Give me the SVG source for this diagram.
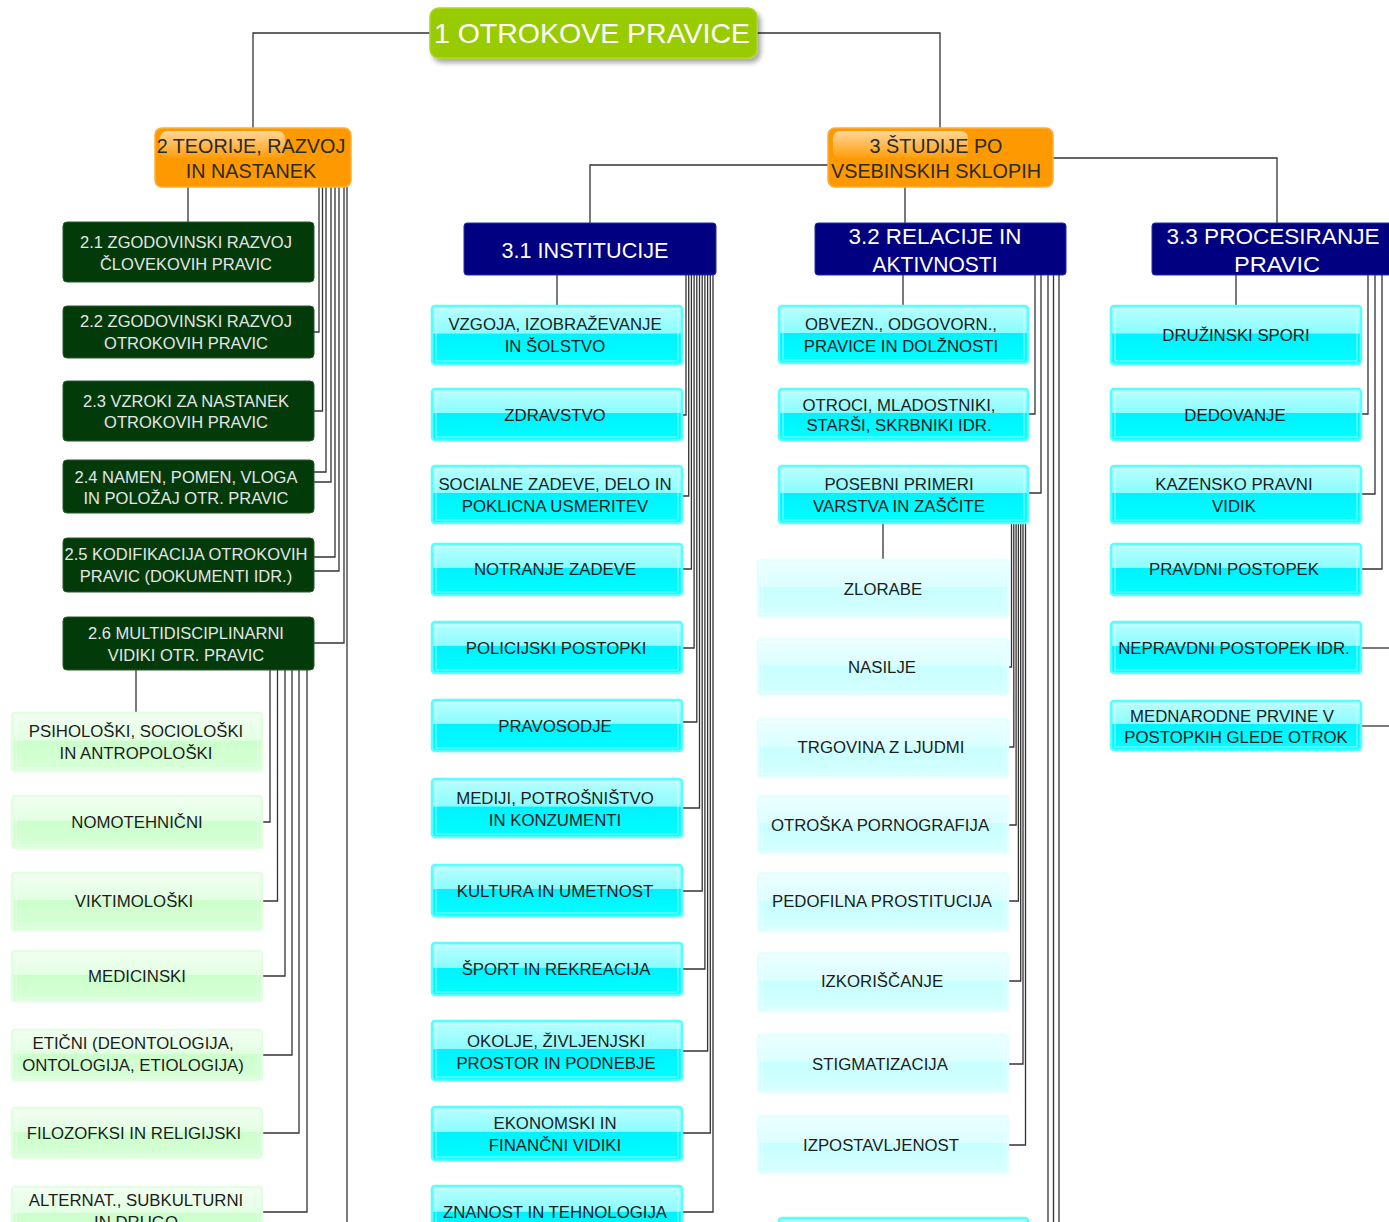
<svg xmlns="http://www.w3.org/2000/svg" width="1389" height="1222" viewBox="0 0 1389 1222">
<defs>
<linearGradient id="gCy" x1="0" y1="0" x2="0" y2="1"><stop offset="0" stop-color="#b8ffff"/><stop offset="0.47" stop-color="#8cfcff"/><stop offset="0.48" stop-color="#00f2ff"/><stop offset="1" stop-color="#00ffff"/></linearGradient>
<linearGradient id="gPale" x1="0" y1="0" x2="0" y2="1"><stop offset="0" stop-color="#ecffff"/><stop offset="0.47" stop-color="#dcffff"/><stop offset="0.48" stop-color="#c8ffff"/><stop offset="1" stop-color="#d6ffff"/></linearGradient>
<linearGradient id="gGr" x1="0" y1="0" x2="0" y2="1"><stop offset="0" stop-color="#f2fff2"/><stop offset="0.47" stop-color="#e2ffe2"/><stop offset="0.48" stop-color="#ccffcc"/><stop offset="1" stop-color="#d8ffd8"/></linearGradient>
<linearGradient id="gHi" x1="0" y1="0" x2="0" y2="1"><stop offset="0" stop-color="#ffffff" stop-opacity="0.6"/><stop offset="1" stop-color="#ffffff" stop-opacity="0.05"/></linearGradient>
<filter id="sh" x="-10%" y="-20%" width="130%" height="160%"><feDropShadow dx="3" dy="4" stdDeviation="2.5" flood-color="#000" flood-opacity="0.35"/></filter>
</defs>
<style>
.c{fill:none;stroke:#333;stroke-width:1.3}
text{font-family:"Liberation Sans",Arial,sans-serif;text-anchor:middle}
.cy .b{fill:url(#gCy);stroke:#55ffff;stroke-width:2.5}
.pa .b{fill:url(#gPale);stroke:#e4ffff;stroke-width:2.5}
.gr .b{fill:url(#gGr);stroke:#e2ffe2;stroke-width:2.5}
.i{fill:none;stroke:#ffffff;stroke-opacity:0.55;stroke-width:1}
.cy text,.pa text,.gr text{font-size:16.8px;fill:#1c1c1c}
.dg rect{fill:#023a0a;stroke:#2a5a2a;stroke-width:1}
.dg text{font-size:16.5px;fill:#e6e6e6}
.nv rect{fill:#000080;stroke:#2a2aa0;stroke-width:1}
.nv text{font-size:22px;fill:#ffffff}
.or .b{fill:#ff9900;stroke:#ffad33;stroke-width:1.5}
.or .h{fill:url(#gHi)}
.or text{font-size:19.8px;fill:#2a2a2a}
</style>

<g id="connectors">
<path class="c" d="M430,33 H253 V128"/>
<path class="c" d="M757,33 H940 V128"/>
<path class="c" d="M828,165 H590 V223"/>
<path class="c" d="M905,187 V223"/>
<path class="c" d="M1053,158 H1277 V223"/>
<path class="c" d="M188,187 V222"/>
<path class="c" d="M319,187 V332 H314"/>
<path class="c" d="M322.5,187 V411 H314"/>
<path class="c" d="M326,187 V472 H314"/>
<path class="c" d="M331,187 V482 H314"/>
<path class="c" d="M335,187 V557 H314"/>
<path class="c" d="M339,187 V571 H314"/>
<path class="c" d="M344,187 V643 H314"/>
<path class="c" d="M347,187 V1222"/>
<path class="c" d="M136,670 V713"/>
<path class="c" d="M270,670 V822 H262"/>
<path class="c" d="M277.5,670 V901 H262"/>
<path class="c" d="M285,670 V976 H262"/>
<path class="c" d="M292,670 V1055 H262"/>
<path class="c" d="M299,670 V1133 H262"/>
<path class="c" d="M307,670 V1212 H262"/>
<path class="c" d="M557,275 V306"/>
<path class="c" d="M686,275 V415 H682"/>
<path class="c" d="M688.7,275 V496 H682"/>
<path class="c" d="M691.4,275 V569 H682"/>
<path class="c" d="M694.1,275 V648 H682"/>
<path class="c" d="M696.8,275 V722 H682"/>
<path class="c" d="M699.5,275 V808 H682"/>
<path class="c" d="M702.2,275 V891 H682"/>
<path class="c" d="M704.9,275 V969 H682"/>
<path class="c" d="M707.6,275 V1051 H682"/>
<path class="c" d="M710.3,275 V1133 H682"/>
<path class="c" d="M713,275 V1212 H682"/>
<path class="c" d="M903,275 V306"/>
<path class="c" d="M1035,275 V414 H1028"/>
<path class="c" d="M1041,275 V493 H1028"/>
<path class="c" d="M1048,275 V1222"/>
<path class="c" d="M1053.5,275 V1222"/>
<path class="c" d="M1059,275 V1222"/>
<path class="c" d="M883,523 V560"/>
<path class="c" d="M1011.5,523 V667 H1008"/>
<path class="c" d="M1013.8,523 V747 H1008"/>
<path class="c" d="M1016.1,523 V825 H1008"/>
<path class="c" d="M1018.4,523 V901 H1008"/>
<path class="c" d="M1020.7,523 V981 H1008"/>
<path class="c" d="M1023,523 V1064 H1008"/>
<path class="c" d="M1025.5,523 V1145 H1008"/>
<path class="c" d="M1236,275 V306"/>
<path class="c" d="M1368,275 V414 H1361"/>
<path class="c" d="M1375,275 V494 H1361"/>
<path class="c" d="M1382,275 V569 H1361"/>
<path class="c" d="M1361,648 H1389"/>
<path class="c" d="M1361,726 H1389"/>
</g>

<g id="n1">
<rect x="430" y="8" width="327" height="50" rx="9" fill="#99cc00" stroke="#aad61e" stroke-width="1.5" filter="url(#sh)"/>
<text x="592" y="43" font-size="28.5" fill="#ffffff">1 OTROKOVE PRAVICE</text>
</g>

<g id="n2" class="or">
<rect class="b" x="155" y="128" width="196" height="59" rx="7"/>
<rect class="h" x="160" y="131" width="125" height="27" rx="7"/>
<text x="251" y="153">2 TEORIJE, RAZVOJ</text>
<text x="251" y="178">IN NASTANEK</text>
</g>
<g id="n3" class="or">
<rect class="b" x="828" y="128" width="225" height="59" rx="7"/>
<rect class="h" x="833" y="131" width="135" height="27" rx="7"/>
<text x="936" y="153">3 ŠTUDIJE PO</text>
<text x="936" y="178">VSEBINSKIH SKLOPIH</text>
</g>

<g id="n31" class="nv">
<rect x="464" y="223" width="252" height="52" rx="3"/>
<text x="585" y="258" textLength="167" lengthAdjust="spacingAndGlyphs">3.1 INSTITUCIJE</text>
</g>
<g id="n32" class="nv">
<rect x="815" y="223" width="251" height="52" rx="3"/>
<text x="935" y="244" textLength="173" lengthAdjust="spacingAndGlyphs">3.2 RELACIJE IN</text>
<text x="935" y="272" textLength="125" lengthAdjust="spacingAndGlyphs">AKTIVNOSTI</text>
</g>
<g id="n33" class="nv">
<rect x="1152" y="223" width="250" height="52" rx="3"/>
<text x="1273" y="244" textLength="213" lengthAdjust="spacingAndGlyphs">3.3 PROCESIRANJE</text>
<text x="1277" y="272" textLength="86" lengthAdjust="spacingAndGlyphs">PRAVIC</text>
</g>

<g id="n21" class="dg"><rect x="63" y="222" width="251" height="60" rx="4"/><text x="186" y="248">2.1 ZGODOVINSKI RAZVOJ</text><text x="186" y="270">ČLOVEKOVIH PRAVIC</text></g>
<g id="n22" class="dg"><rect x="63" y="306" width="251" height="52" rx="4"/><text x="186" y="327">2.2 ZGODOVINSKI RAZVOJ</text><text x="186" y="349">OTROKOVIH PRAVIC</text></g>
<g id="n23" class="dg"><rect x="63" y="381" width="251" height="60" rx="4"/><text x="186" y="407">2.3 VZROKI ZA NASTANEK</text><text x="186" y="428">OTROKOVIH PRAVIC</text></g>
<g id="n24" class="dg"><rect x="63" y="460" width="251" height="53" rx="4"/><text x="186" y="483">2.4 NAMEN, POMEN, VLOGA</text><text x="186" y="504">IN POLOŽAJ OTR. PRAVIC</text></g>
<g id="n25" class="dg"><rect x="63" y="538" width="251" height="54" rx="4"/><text x="186" y="560">2.5 KODIFIKACIJA OTROKOVIH</text><text x="186" y="582">PRAVIC (DOKUMENTI IDR.)</text></g>
<g id="n26" class="dg"><rect x="63" y="617" width="251" height="53" rx="4"/><text x="186" y="639">2.6 MULTIDISCIPLINARNI</text><text x="186" y="661">VIDIKI OTR. PRAVIC</text></g>

<g id="n261" class="gr"><rect class="b" x="12" y="713" width="250" height="58" rx="3"/><rect class="i" x="16" y="716" width="242" height="52"/><text x="136" y="737">PSIHOLOŠKI, SOCIOLOŠKI</text><text x="136" y="759">IN ANTROPOLOŠKI</text></g>
<g id="n262" class="gr"><rect class="b" x="12" y="796" width="250" height="52" rx="3"/><rect class="i" x="16" y="799" width="242" height="46"/><text x="137" y="828">NOMOTEHNIČNI</text></g>
<g id="n263" class="gr"><rect class="b" x="12" y="873" width="250" height="57" rx="3"/><rect class="i" x="16" y="876" width="242" height="51"/><text x="134" y="907">VIKTIMOLOŠKI</text></g>
<g id="n264" class="gr"><rect class="b" x="12" y="951" width="250" height="50" rx="3"/><rect class="i" x="16" y="954" width="242" height="44"/><text x="137" y="982">MEDICINSKI</text></g>
<g id="n265" class="gr"><rect class="b" x="12" y="1030" width="250" height="50" rx="3"/><rect class="i" x="16" y="1033" width="242" height="44"/><text x="133" y="1049">ETIČNI (DEONTOLOGIJA,</text><text x="133" y="1071">ONTOLOGIJA, ETIOLOGIJA)</text></g>
<g id="n266" class="gr"><rect class="b" x="12" y="1108" width="250" height="50" rx="3"/><rect class="i" x="16" y="1111" width="242" height="44"/><text x="134" y="1139">FILOZOFKSI IN RELIGIJSKI</text></g>
<g id="n267" class="gr"><rect class="b" x="12" y="1187" width="250" height="55" rx="3"/><rect class="i" x="16" y="1190" width="242" height="49"/><text x="136" y="1206">ALTERNAT., SUBKULTURNI</text><text x="136" y="1228">IN DRUGO</text></g>

<g id="n311" class="cy"><rect class="b" x="432" y="306" width="250" height="58" rx="3"/><rect class="i" x="436" y="309" width="242" height="52"/><text x="555" y="330">VZGOJA, IZOBRAŽEVANJE</text><text x="555" y="352">IN ŠOLSTVO</text></g>
<g id="n312" class="cy"><rect class="b" x="432" y="389" width="250" height="51" rx="3"/><rect class="i" x="436" y="392" width="242" height="45"/><text x="555" y="421">ZDRAVSTVO</text></g>
<g id="n313" class="cy"><rect class="b" x="432" y="466" width="250" height="57" rx="3"/><rect class="i" x="436" y="469" width="242" height="51"/><text x="555" y="490">SOCIALNE ZADEVE, DELO IN</text><text x="555" y="512">POKLICNA USMERITEV</text></g>
<g id="n314" class="cy"><rect class="b" x="432" y="544" width="250" height="51" rx="3"/><rect class="i" x="436" y="547" width="242" height="45"/><text x="555" y="575">NOTRANJE ZADEVE</text></g>
<g id="n315" class="cy"><rect class="b" x="432" y="622" width="250" height="51" rx="3"/><rect class="i" x="436" y="625" width="242" height="45"/><text x="556" y="654">POLICIJSKI POSTOPKI</text></g>
<g id="n316" class="cy"><rect class="b" x="432" y="700" width="250" height="51" rx="3"/><rect class="i" x="436" y="703" width="242" height="45"/><text x="555" y="732">PRAVOSODJE</text></g>
<g id="n317" class="cy"><rect class="b" x="432" y="779" width="250" height="58" rx="3"/><rect class="i" x="436" y="782" width="242" height="52"/><text x="555" y="804">MEDIJI, POTROŠNIŠTVO</text><text x="555" y="826">IN KONZUMENTI</text></g>
<g id="n318" class="cy"><rect class="b" x="432" y="865" width="250" height="51" rx="3"/><rect class="i" x="436" y="868" width="242" height="45"/><text x="555" y="897">KULTURA IN UMETNOST</text></g>
<g id="n319" class="cy"><rect class="b" x="432" y="943" width="250" height="52" rx="3"/><rect class="i" x="436" y="946" width="242" height="46"/><text x="556" y="975">ŠPORT IN REKREACIJA</text></g>
<g id="n3110" class="cy"><rect class="b" x="432" y="1021" width="250" height="59" rx="3"/><rect class="i" x="436" y="1024" width="242" height="53"/><text x="556" y="1047">OKOLJE, ŽIVLJENJSKI</text><text x="556" y="1069">PROSTOR IN PODNEBJE</text></g>
<g id="n3111" class="cy"><rect class="b" x="432" y="1107" width="250" height="53" rx="3"/><rect class="i" x="436" y="1110" width="242" height="47"/><text x="555" y="1129">EKONOMSKI IN</text><text x="555" y="1151">FINANČNI VIDIKI</text></g>
<g id="n3112" class="cy"><rect class="b" x="432" y="1186" width="250" height="54" rx="3"/><rect class="i" x="436" y="1189" width="242" height="48"/><text x="555" y="1218">ZNANOST IN TEHNOLOGIJA</text></g>

<g id="n321" class="cy"><rect class="b" x="779" y="306" width="249" height="57" rx="3"/><rect class="i" x="783" y="309" width="241" height="51"/><text x="901" y="330">OBVEZN., ODGOVORN.,</text><text x="901" y="352">PRAVICE IN DOLŽNOSTI</text></g>
<g id="n322" class="cy"><rect class="b" x="779" y="389" width="249" height="51" rx="3"/><rect class="i" x="783" y="392" width="241" height="45"/><text x="899" y="411">OTROCI, MLADOSTNIKI,</text><text x="899" y="431">STARŠI, SKRBNIKI IDR.</text></g>
<g id="n323" class="cy"><rect class="b" x="779" y="466" width="249" height="57" rx="3"/><rect class="i" x="783" y="469" width="241" height="51"/><text x="899" y="490">POSEBNI PRIMERI</text><text x="899" y="512">VARSTVA IN ZAŠČITE</text></g>
<g id="n324" class="cy"><rect class="b" x="779" y="1218" width="249" height="40" rx="3"/></g>

<g id="n3231" class="pa"><rect class="b" x="758" y="560" width="250" height="57" rx="3"/><rect class="i" x="762" y="563" width="242" height="51"/><text x="883" y="595">ZLORABE</text></g>
<g id="n3232" class="pa"><rect class="b" x="758" y="639" width="250" height="56" rx="3"/><rect class="i" x="762" y="642" width="242" height="50"/><text x="882" y="673">NASILJE</text></g>
<g id="n3233" class="pa"><rect class="b" x="758" y="719" width="250" height="58" rx="3"/><rect class="i" x="762" y="722" width="242" height="52"/><text x="881" y="753">TRGOVINA Z LJUDMI</text></g>
<g id="n3234" class="pa"><rect class="b" x="758" y="796" width="250" height="57" rx="3"/><rect class="i" x="762" y="799" width="242" height="51"/><text x="880" y="831">OTROŠKA PORNOGRAFIJA</text></g>
<g id="n3235" class="pa"><rect class="b" x="758" y="873" width="250" height="58" rx="3"/><rect class="i" x="762" y="876" width="242" height="52"/><text x="882" y="907">PEDOFILNA PROSTITUCIJA</text></g>
<g id="n3236" class="pa"><rect class="b" x="758" y="953" width="250" height="58" rx="3"/><rect class="i" x="762" y="956" width="242" height="52"/><text x="882" y="987">IZKORIŠČANJE</text></g>
<g id="n3237" class="pa"><rect class="b" x="758" y="1035" width="250" height="57" rx="3"/><rect class="i" x="762" y="1038" width="242" height="51"/><text x="880" y="1070">STIGMATIZACIJA</text></g>
<g id="n3238" class="pa"><rect class="b" x="758" y="1116" width="250" height="57" rx="3"/><rect class="i" x="762" y="1119" width="242" height="51"/><text x="881" y="1151">IZPOSTAVLJENOST</text></g>

<g id="n331" class="cy"><rect class="b" x="1111" y="306" width="250" height="58" rx="3"/><rect class="i" x="1115" y="309" width="242" height="52"/><text x="1236" y="341">DRUŽINSKI SPORI</text></g>
<g id="n332" class="cy"><rect class="b" x="1111" y="389" width="250" height="51" rx="3"/><rect class="i" x="1115" y="392" width="242" height="45"/><text x="1235" y="421">DEDOVANJE</text></g>
<g id="n333" class="cy"><rect class="b" x="1111" y="466" width="250" height="57" rx="3"/><rect class="i" x="1115" y="469" width="242" height="51"/><text x="1234" y="490">KAZENSKO PRAVNI</text><text x="1234" y="512">VIDIK</text></g>
<g id="n334" class="cy"><rect class="b" x="1111" y="544" width="250" height="51" rx="3"/><rect class="i" x="1115" y="547" width="242" height="45"/><text x="1234" y="575">PRAVDNI POSTOPEK</text></g>
<g id="n335" class="cy"><rect class="b" x="1111" y="622" width="250" height="51" rx="3"/><rect class="i" x="1115" y="625" width="242" height="45"/><text x="1234" y="654">NEPRAVDNI POSTOPEK IDR.</text></g>
<g id="n336" class="cy"><rect class="b" x="1111" y="701" width="250" height="49" rx="3"/><rect class="i" x="1115" y="704" width="242" height="43"/><text x="1232" y="722">MEDNARODNE PRVINE V</text><text x="1236" y="743">POSTOPKIH GLEDE OTROK</text></g>
</svg>
